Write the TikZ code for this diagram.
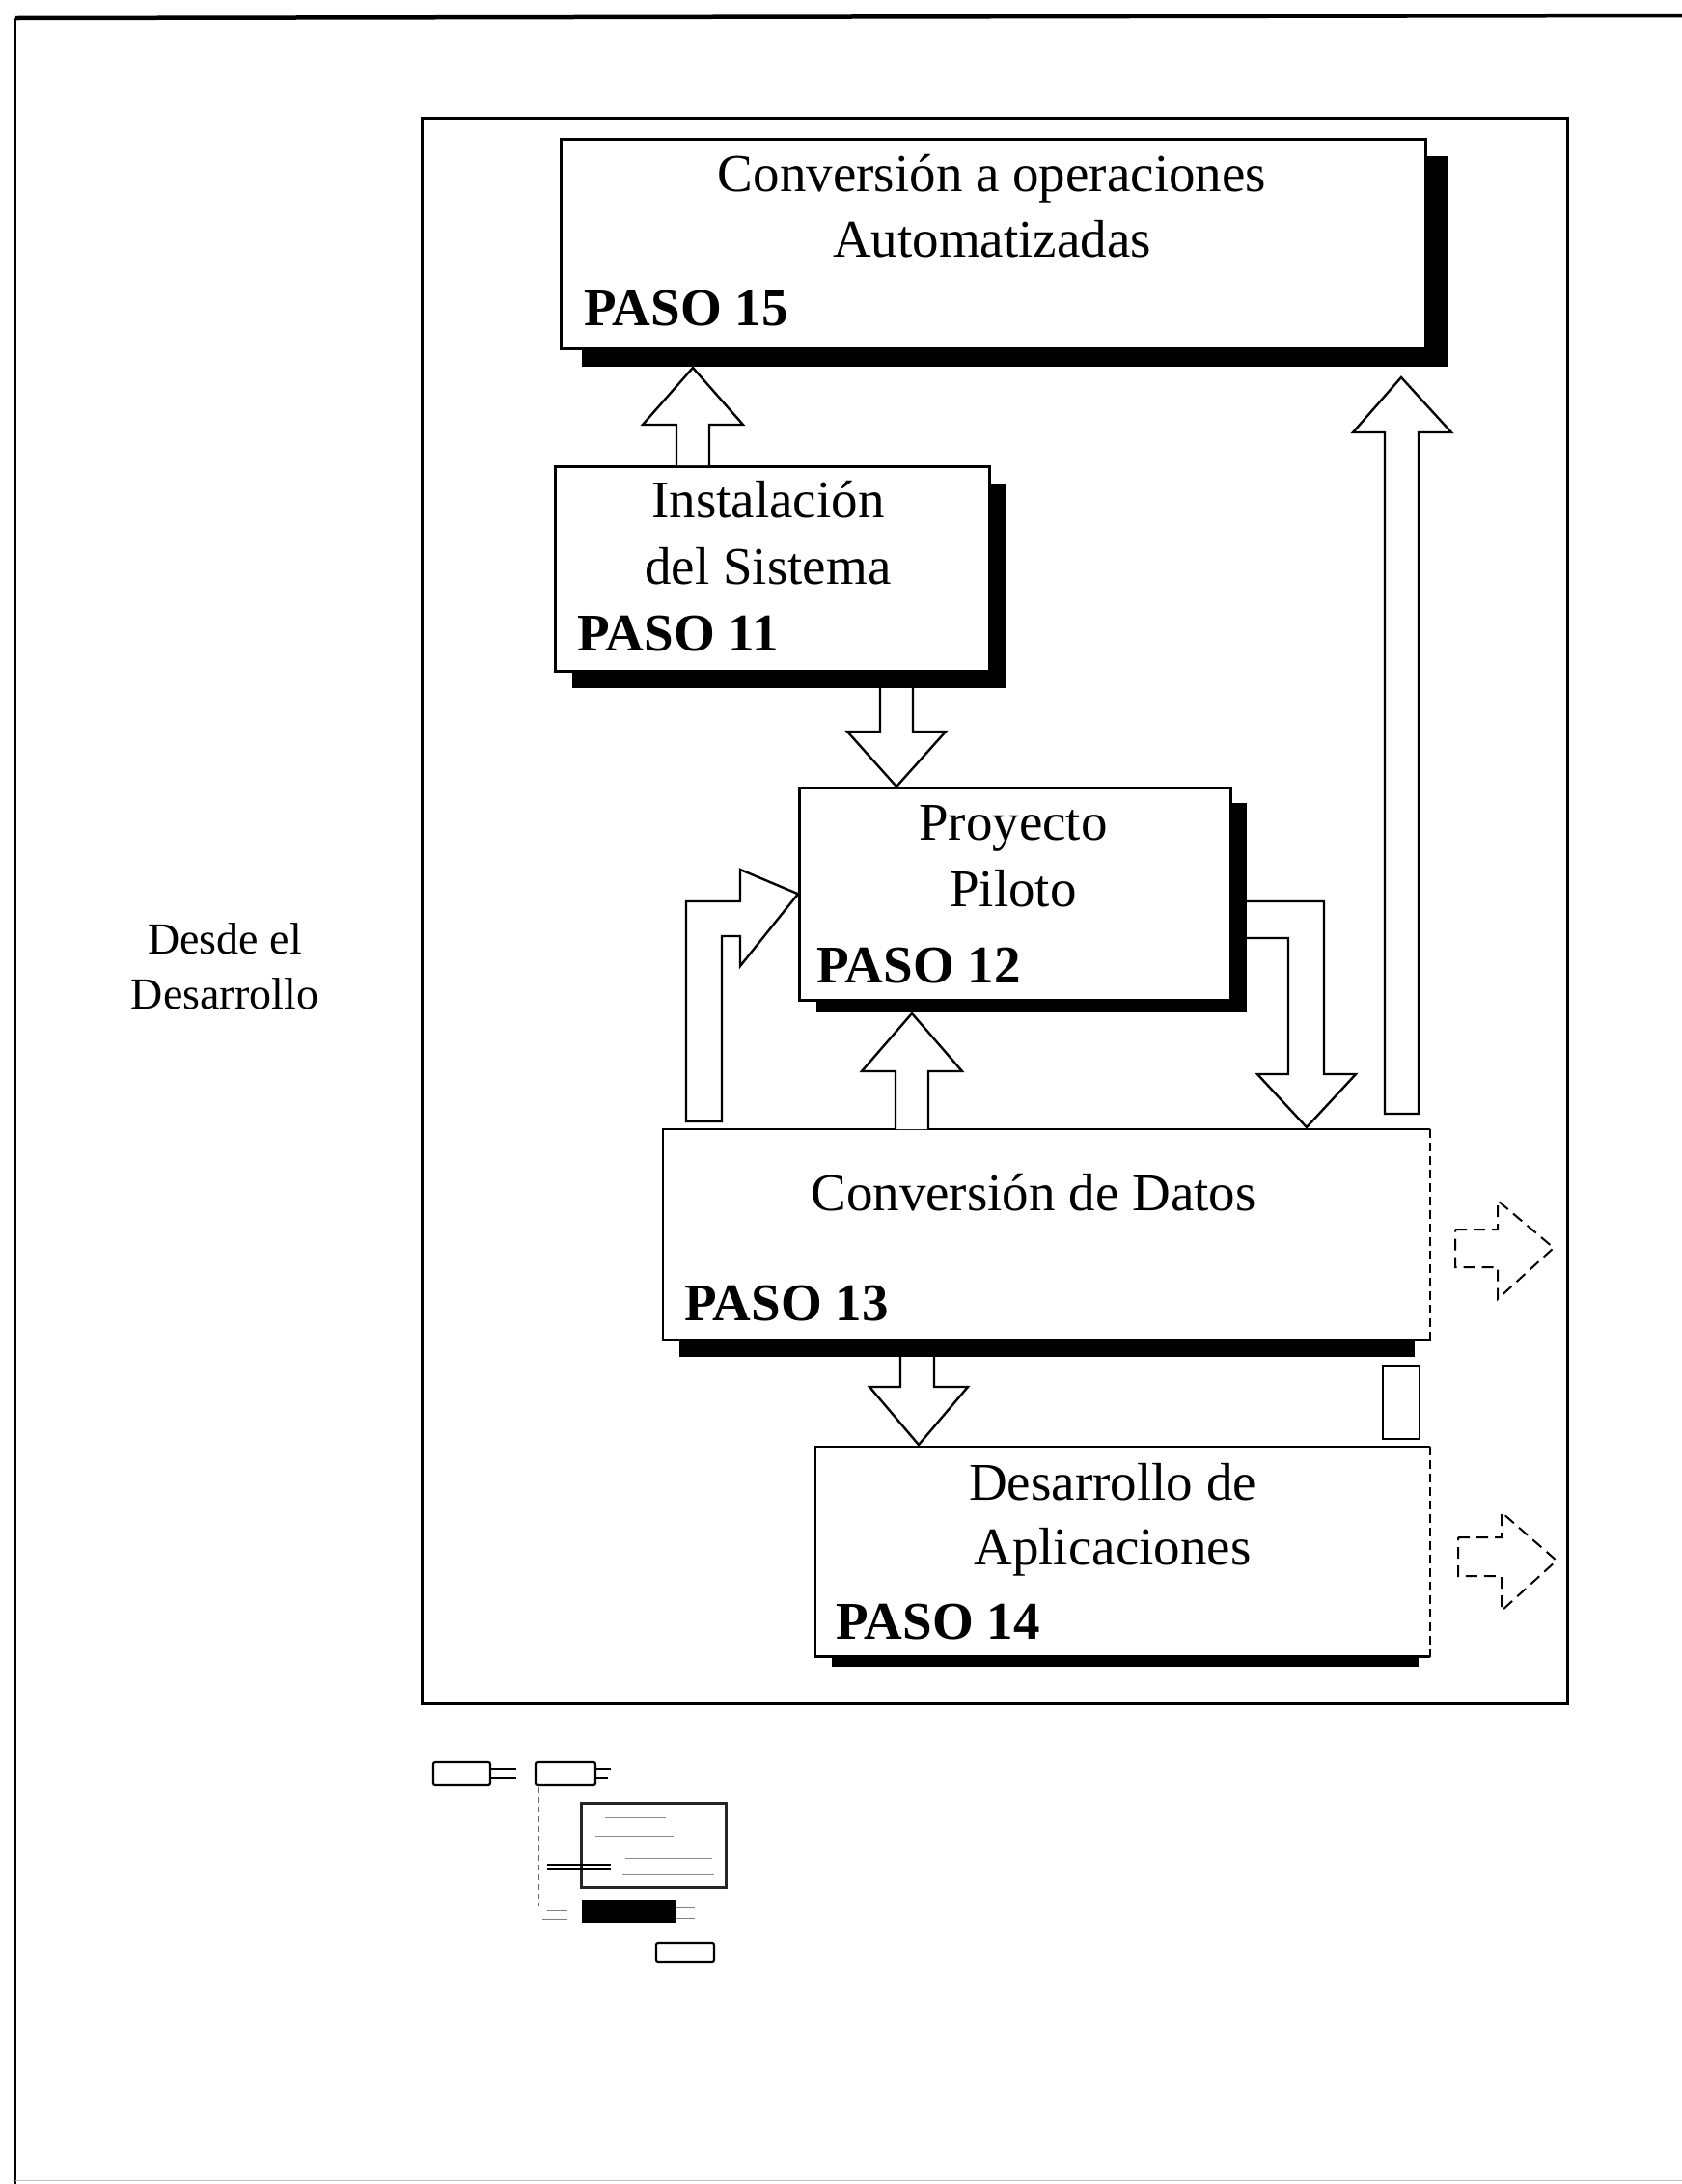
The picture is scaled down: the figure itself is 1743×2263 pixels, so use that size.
\documentclass[tikz,border=0pt]{standalone}
\usepackage{fontspec}
\setmainfont{Liberation Serif}
\begin{document}
\begin{tikzpicture}[x=1pt,y=-1pt,
  boxst/.style={draw, line width=2.5pt, fill=white, inner sep=0pt, anchor=north west},
  shad/.style={fill=black},
  blockarrow/.style={draw, line width=2.4pt, fill=white, line join=miter},
  dasharrow/.style={draw, line width=2pt, fill=white, dash pattern=on 12pt off 7pt},
  maintext/.style={font=\fontsize{55}{66}\selectfont, inner sep=0pt, anchor=base},
  pasotext/.style={font=\fontsize{55}{66}\selectfont\bfseries, inner sep=0pt, anchor=base west},
  sidetext/.style={font=\fontsize{46}{57}\selectfont, inner sep=0pt, anchor=base},
  thumb/.style={draw, line width=2.2pt, rounded corners=2pt, fill=white}
]
\useasboundingbox (0,0) rectangle (1743,2263);
\fill[white] (0,0) rectangle (1743,2263);

% outer frame (page border)
\coordinate (oTL) at (16,19);
\coordinate (oTR) at (1743,16);
\coordinate (oBL) at (16,2263);
\draw[line width=4.5pt] (oTL) -- (oTR);
\draw[line width=2.5pt] (oTL) -- (oBL);
\draw[line width=1pt, black!25] (16,2259) -- (1743,2259);

% inner frame
\node[draw, line width=3pt, inner sep=0pt, anchor=north west, minimum width=1187pt, minimum height=1643pt] (frame) at (436,121) {};

% side text
\node[sidetext] (side1) at (233,988) {Desde el};
\node[sidetext] (side2) at (233,1045) {Desarrollo};

% shadows
\node[shad, inner sep=0pt, anchor=north west, minimum width=897pt, minimum height=218pt] (s15) at (603,162) {};
\node[shad, inner sep=0pt, anchor=north west, minimum width=450pt, minimum height=211pt] (s11) at (593,502) {};
\node[shad, inner sep=0pt, anchor=north west, minimum width=446pt, minimum height=217pt] (s12) at (846,832) {};
\node[shad, inner sep=0pt, anchor=north west, minimum width=762pt, minimum height=21pt] (s13) at (704,1385) {};
\node[shad, inner sep=0pt, anchor=north west, minimum width=608pt, minimum height=14pt] (s14) at (862,1713) {};

% boxes
\node[boxst, minimum width=896pt, minimum height=217pt] (b15) at (580,143) {};
\node[boxst, minimum width=450pt, minimum height=212pt] (b11) at (574,482) {};
\node[boxst, minimum width=447pt, minimum height=220pt] (b12) at (827,815) {};
\node[boxst, draw=none, minimum width=792pt, minimum height=216pt] (b13) at (687,1170) {};
\node[boxst, draw=none, minimum width=634pt, minimum height=215pt] (b14) at (845,1499) {};
\draw[line width=2.5pt] (b13.north east) -- (b13.north west) -- (b13.south west) -- (b13.south east);
\draw[line width=2pt, dash pattern=on 9pt off 5pt] (b13.north east) -- (b13.south east);
\draw[line width=2.5pt] (b14.north east) -- (b14.north west) -- (b14.south west) -- (b14.south east);
\draw[line width=2pt, dash pattern=on 9pt off 5pt] (b14.north east) -- (b14.south east);

% texts
\node[maintext] (t15a) at (1028,198) {Conversión a operaciones};
\node[maintext] (t15b) at (1028,266) {Automatizadas};
\node[pasotext] (p15) at (605,337) {PASO 15};

\node[maintext] (t11a) at (796,536) {Instalación};
\node[maintext] (t11b) at (796,605) {del Sistema};
\node[pasotext] (p11) at (598,674) {PASO 11};

\node[maintext] (t12a) at (1050,870) {Proyecto};
\node[maintext] (t12b) at (1050,939) {Piloto};
\node[pasotext] (p12) at (846,1018) {PASO 12};

\node[maintext] (t13a) at (1071,1254) {Conversión de Datos};
\node[pasotext] (p13) at (709,1368) {PASO 13};

\node[maintext] (t14a) at (1153,1554) {Desarrollo de};
\node[maintext] (t14b) at (1153,1621) {Aplicaciones};
\node[pasotext] (p14) at (866,1698) {PASO 14};

% block arrows
% 11 -> 15
\draw[blockarrow] (701,482) -- (701,440) -- (666,440) -- (718,381) -- (770,440) -- (735,440) -- (735,482);
% 11 -> 12
\draw[blockarrow] (912,713) -- (912,758) -- (878,758) -- (929,815) -- (980,758) -- (946,758) -- (946,713);
% bent arrow into 12 from left
\draw[blockarrow] (711,1162) -- (711,934) -- (767,934) -- (767,901) -- (b12.west) -- (767,1001) -- (767,970) -- (748,970) -- (748,1162) -- cycle;
% 13 -> 12
\draw[blockarrow] (928,1170) -- (928,1110) -- (893,1110) -- (945,1050) -- (997,1110) -- (962,1110) -- (962,1170);
% bent arrow from 12 to 13 (right)
\draw[blockarrow] (1292,934) -- (1372,934) -- (1372,1113) -- (1405,1113) -- (1354,1168) -- (1303,1113) -- (1335,1113) -- (1335,972) -- (1292,972);
% long arrow up to 15
\draw[blockarrow] (1435,1154) -- (1435,448) -- (1402,448) -- (1452,391) -- (1504,448) -- (1470,448) -- (1470,1154) -- cycle;
% 13 -> 14
\draw[blockarrow] (933,1406) -- (933,1437) -- (901,1437) -- (952,1497) -- (1003,1437) -- (968,1437) -- (968,1406);
% small rectangle between 13 and 14
\draw[blockarrow] (1433,1415) rectangle (1471,1491);

% dashed arrows
\draw[dasharrow] (1508,1274) -- (1552,1274) -- (1552,1244) -- (1610,1293) -- (1552,1346) -- (1552,1313) -- (1508,1313) -- cycle;
\draw[dasharrow] (1511,1593) -- (1556,1593) -- (1556,1567) -- (1613,1617) -- (1556,1669) -- (1556,1633) -- (1511,1633) -- cycle;

% small thumbnail sketch below the frame
\draw[thumb] (449,1826) rectangle (508,1850);
\draw[line width=1.5pt] (508,1833) -- (535,1833) (508,1842) -- (535,1842);
\draw[thumb] (555,1826) rectangle (617,1850);
\draw[line width=1.5pt] (617,1833) -- (633,1833) (617,1842) -- (630,1842);
\draw[line width=1pt, black!60, dash pattern=on 6pt off 4pt] (558,1852) -- (558,1975);
\draw[line width=3pt, black!85] (602,1868) rectangle (752,1955);
\draw[line width=1pt, black!45] (627,1883) -- (690,1883) (617,1902) -- (698,1902) (648,1925) -- (738,1925) (645,1942) -- (740,1942);
\draw[line width=1.5pt] (567,1932) -- (633,1932) (567,1937) -- (633,1937);
\fill[black] (603,1969) rectangle (700,1993);
\draw[line width=1pt, black!50] (700,1976) -- (720,1976) (700,1987) -- (720,1987) (567,1979) -- (588,1979) (562,1988) -- (588,1988);
\draw[thumb] (680,2013) rectangle (740,2033);
\end{tikzpicture}
\end{document}
